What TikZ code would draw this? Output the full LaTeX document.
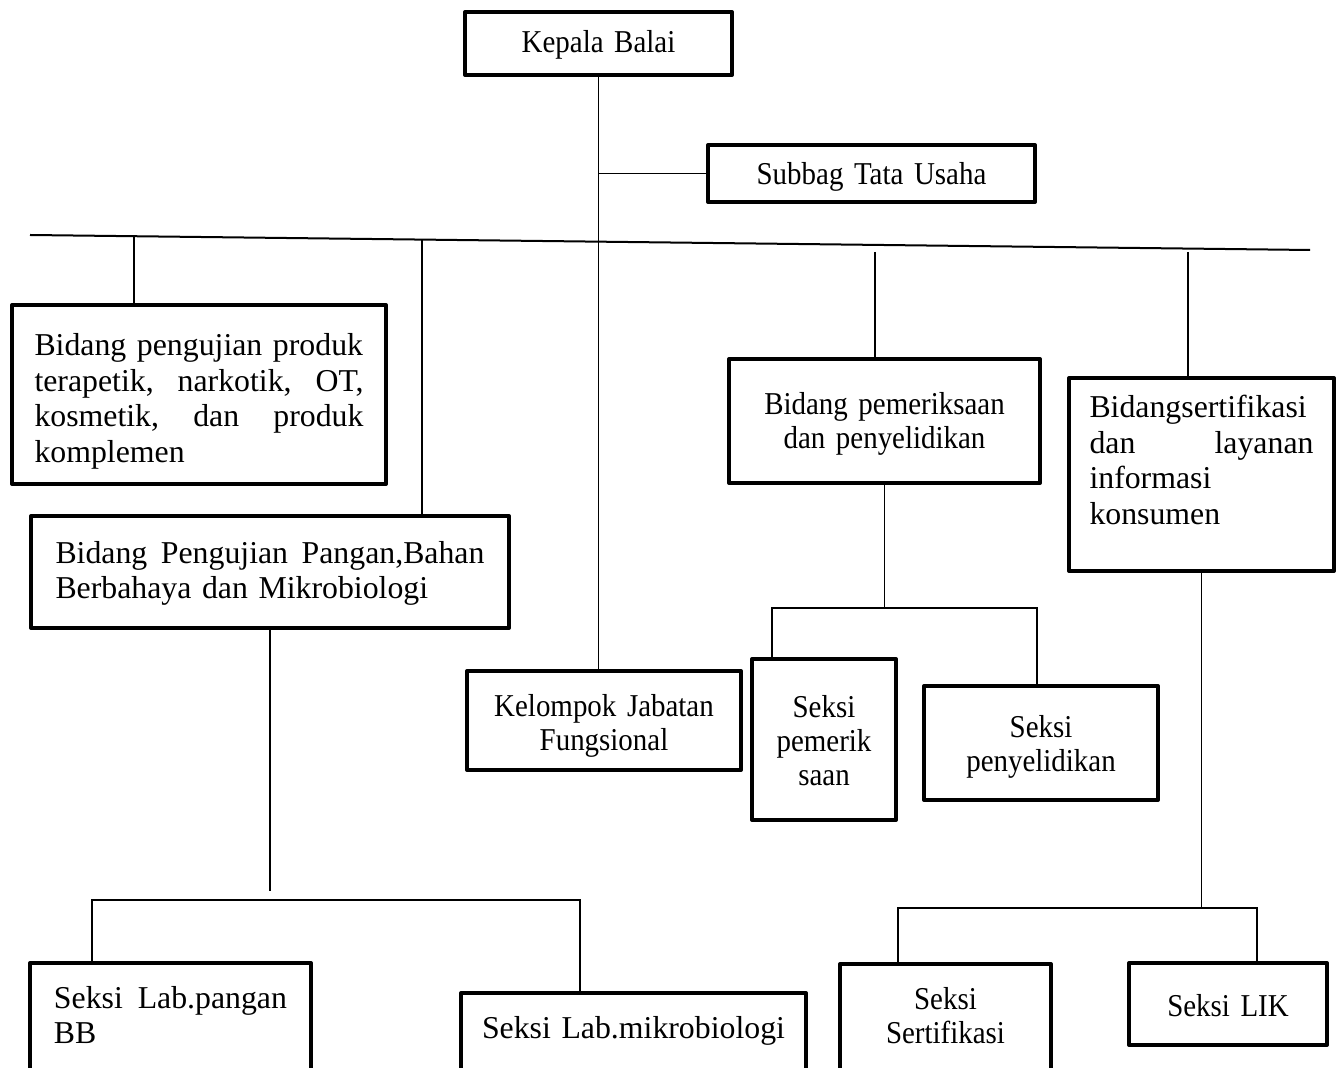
\documentclass[tikz,border=0pt]{standalone}
\usepackage{fontspec}
\setmainfont{Liberation Serif}
\newfontfamily\sempit[FakeStretch=0.91]{Liberation Serif}

\begin{document}
\begin{tikzpicture}[x=0.5pt,y=-0.5pt,
  kotak/.style={draw, line width=2pt, line join=round, inner sep=0pt},
  besar/.style={font=\fontsize{15.9}{17.75}\selectfont},
  kecil/.style={font=\sempit\fontsize{15.9}{17}\selectfont},
  garis/.style={line width=0.75pt}]
\useasboundingbox (0,0) rectangle (1342,1068);
\clip (0,0) rectangle (1342,1068);

\node[kotak, kecil, align=center, text width=133.5pt, text height=20.5pt, text depth=11pt] (kepala) at (598.5,43.5) {Kepala Balai};
\node[kotak, kecil, align=center, text width=163.5pt, text height=20pt, text depth=8.5pt] (subbag) at (871.5,173.5) {Subbag Tata Usaha};

\node[kotak, besar, align=left, inner xsep=11.25pt, text width=164.5pt, text height=25.5pt, text depth=64pt] (produk) at (199,394.5) {Bidang pengujian produk\\ terapetik,\hfill narkotik,\hfill OT,\\ kosmetik,\hfill dan\hfill produk\\ komplemen};
\node[kotak, besar, align=left, inner xsep=12.25pt, text width=214.5pt, text height=23.5pt, text depth=32.5pt] (pangan) at (270,572) {Bidang\hfill Pengujian\hfill Pangan,Bahan\\ Berbahaya dan Mikrobiologi};
\node[kotak, kecil, align=center, text width=155.5pt, text height=28pt, text depth=34pt] (periksa) at (884.5,421) {Bidang pemeriksaan\\ dan penyelidikan};
\node[kotak, besar, align=left, inner xsep=10.25pt, text width=112pt, text height=20pt, text depth=76.5pt] (sertif) at (1201.5,474.5) {Bidangsertifikasi\\ dan\hfill layanan\\ informasi\\ konsumen};

\node[kotak, kecil, align=center, text width=137pt, text height=22.5pt, text depth=27pt] (kelompok) at (604,720.5) {Kelompok Jabatan\\ Fungsional};
\node[kotak, kecil, align=center, text width=72pt, text height=29pt, text depth=51.5pt] (pemerik) at (824,739.5) {Seksi\\ pemerik\\ saan};
\node[kotak, kecil, align=center, text width=117pt, text height=25.5pt, text depth=31.5pt] (selidik) at (1041,743) {Seksi\\ penyelidikan};

\node[kotak, besar, align=left, inner xsep=12pt, text width=116.5pt, text height=22.5pt, text depth=41pt] (labpangan) at (170.5,1026.5) {Seksi\hfill Lab.pangan\\ BB};
\node[kotak, besar, align=center, text width=172.5pt, text height=22.5pt, text depth=26pt] (labmikro) at (633.5,1041.5) {Seksi Lab.mikrobiologi};
\node[kotak, kecil, align=center, text width=105.5pt, text height=22.5pt, text depth=40.5pt] (seksert) at (945.5,1027) {Seksi\\ Sertifikasi};
\node[kotak, kecil, align=center, text width=99pt, text height=26.5pt, text depth=14.5pt] (lik) at (1228,1004) {Seksi LIK};

% garis utama
\coordinate (ki) at (30,235);
\coordinate (ka) at (1310,250);
\path[draw,line width=1pt] (ki) -- (ka);

\path[draw,garis] (kepala.south) -- (kepala.south |- kelompok.north);
\path[draw,garis] (kepala.south |- subbag.west) -- (subbag.west);

\coordinate (t1) at (134,236.3);
\coordinate (t2) at (422,239.6);
\coordinate (t3) at (875,252);
\coordinate (t4) at (1188,252);
\path[draw,garis] (t1) -- (t1 |- produk.north);
\path[draw,garis] (t2) -- (t2 |- pangan.north);
\path[draw,garis] (t3) -- (t3 |- periksa.north);
\path[draw,garis] (t4) -- (t4 |- sertif.north);

% cabang bawah
\coordinate (h1) at (772,608);
\coordinate (h2) at (1037,608);
\path[draw,garis] (periksa.south) -- (periksa.south |- h1);
\path[draw,garis] (h1 |- pemerik.north) -- (h1) -- (h2) -- (h2 |- selidik.north);

\coordinate (h3) at (92,900);
\coordinate (h4) at (580,900);
\path[draw,garis] (pangan.south) -- +(0,261);
\path[draw,garis] (h3 |- labpangan.north) -- (h3) -- (h4) -- (h4 |- labmikro.north);

\coordinate (h5) at (898,908);
\coordinate (h6) at (1257,908);
\path[draw,garis] (sertif.south) -- (sertif.south |- h5);
\path[draw,garis] (h5 |- seksert.north) -- (h5) -- (h6) -- (h6 |- lik.north);
\end{tikzpicture}
\end{document}
